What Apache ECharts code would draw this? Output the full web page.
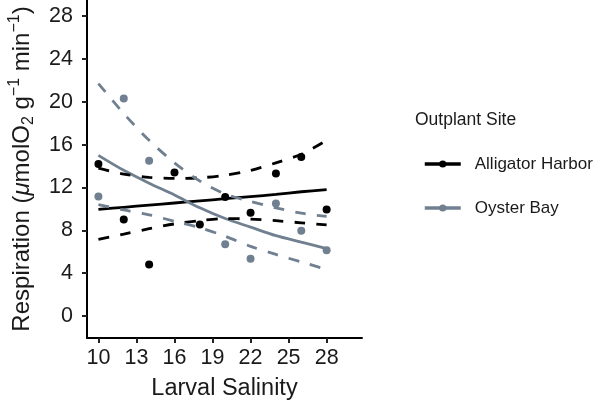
<!DOCTYPE html>
<html>
<head>
<meta charset="utf-8">
<script src="https://cdn.jsdelivr.net/npm/echarts@6/dist/echarts.min.js"></script>
<style>
  html, body { margin: 0; padding: 0; background: #fff; }
  #chart { width: 600px; height: 400px; }
</style>
</head>
<body>
<div id="chart"></div>
<script>
// observed larval salinity levels
var salinity = [10, 12, 14, 16, 18, 20, 22, 24, 26, 28];
var xTicks = [10, 13, 16, 19, 22, 25, 28];
var yTicks = [0, 4, 8, 12, 16, 20, 24, 28];

// measured respiration, one point per salinity
var ahPoints = [14.2, 9.0, 4.8, 13.4, 8.55, 11.1, 9.65, 13.3, 14.85, 9.95];
var obSalinity = [10, 12, 14, 20, 22, 24, 26, 28];
var obPoints = [11.15, 20.3, 14.5, 6.7, 5.35, 10.5, 7.95, 6.15];

// fitted lines and confidence bands
var ahFit   = [9.95, 10.15, 10.35, 10.55, 10.75, 10.95, 11.15, 11.35, 11.6, 11.8];
var ahUpper = [13.8, 13.25, 12.95, 12.85, 12.9, 13.15, 13.6, 14.3, 15.1, 16.4];
var ahLower = [7.15, 7.65, 8.15, 8.6, 8.9, 9.1, 9.05, 8.9, 8.7, 8.5];
var obFit   = [15.0, 13.6, 12.4, 11.3, 10.1, 9.1, 8.3, 7.5, 6.9, 6.3];
var obUpper = [21.7, 18.9, 16.4, 14.3, 12.6, 11.4, 10.7, 10.1, 9.6, 9.3];
var obLower = [10.4, 9.9, 9.45, 8.85, 8.25, 7.45, 6.5, 5.75, 5.05, 4.35];

var AH = '#000000';
var OB = '#708090';

function pairs(xs, ys) {
  return xs.map(function (x, i) { return [x, ys[i]]; });
}

function fitLine(name, color, ys) {
  return {
    name: name, type: 'line', data: pairs(salinity, ys),
    symbol: 'circle', showSymbol: false, smooth: 0.3,
    itemStyle: { color: color },
    lineStyle: { color: color, width: 2.8 }, z: 3, silent: true
  };
}

function bandLine(name, color, ys) {
  return {
    name: name, type: 'line', data: pairs(salinity, ys),
    showSymbol: false, smooth: 0.3,
    lineStyle: { color: color, width: 2.8, type: [11, 11] }, z: 3, silent: true
  };
}

function dots(name, color, xs, ys) {
  return {
    name: name, type: 'scatter', data: pairs(xs, ys),
    symbolSize: 8, itemStyle: { color: color, opacity: 1 }, z: 2, silent: true
  };
}

var myChart = echarts.init(document.getElementById('chart'));

option = {
  animation: false,
  title: {
    text: 'Outplant Site', left: 410, top: 106,
    textStyle: { fontSize: 17.5, fontWeight: 'normal', color: '#1a1a1a', fontFamily: 'Liberation Sans' }
  },
  legend: {
    data: ['Alligator Harbor', 'Oyster Bay'],
    orient: 'vertical', left: 418, top: 149,
    itemWidth: 36, itemHeight: 9, itemGap: 24,
    lineStyle: { width: 3.5 },
    textStyle: { fontSize: 17, color: '#1a1a1a', fontFamily: 'Liberation Sans', lineHeight: 20, padding: [0, 0, 0, 9] }
  },
  grid: { left: 87, right: 238, top: 0, bottom: 62, outerBoundsMode: 'none', containLabel: false },
  xAxis: {
    type: 'value', min: 9.1, max: 30.79,
    name: 'Larval Salinity', nameLocation: 'middle', nameGap: 39,
    nameTextStyle: { fontSize: 23.5, color: '#1a1a1a', fontFamily: 'Liberation Sans' },
    axisLine: { onZero: false, lineStyle: { color: '#000', width: 2 } },
    axisTick: { show: true, length: 5, customValues: xTicks, lineStyle: { color: '#222', width: 2 } },
    axisLabel: { customValues: xTicks, fontSize: 21.5, color: '#1a1a1a', margin: 9, fontFamily: 'Liberation Sans' },
    splitLine: { show: false }
  },
  yAxis: {
    type: 'value', min: -2.05, max: 29.5,
    name: '{a|Respiration (}{mu|μ}{a|molO}{sub|2}{a| g}{sup|−1}{a| min}{sup|−1}{a|)}',
    nameLocation: 'middle', nameGap: 50, nameRotate: 90,
    nameTextStyle: {
      fontSize: 24, color: '#1a1a1a', fontFamily: 'Liberation Sans',
      rich: {
        a: { fontSize: 24, lineHeight: 30, color: '#1a1a1a', fontFamily: 'Liberation Sans' },
        mu: { fontSize: 24, lineHeight: 30, fontStyle: 'italic', color: '#1a1a1a', fontFamily: 'Liberation Sans' },
        sub: { fontSize: 16, lineHeight: 16, verticalAlign: 'bottom', color: '#1a1a1a', fontFamily: 'Liberation Sans' },
        sup: { fontSize: 16, lineHeight: 16, verticalAlign: 'top', color: '#1a1a1a', fontFamily: 'Liberation Sans' }
      }
    },
    axisLine: { show: true, onZero: false, lineStyle: { color: '#000', width: 2 } },
    axisTick: { show: true, length: 5, customValues: yTicks, lineStyle: { color: '#222', width: 2 } },
    axisLabel: { customValues: yTicks, fontSize: 21.5, color: '#1a1a1a', margin: 14, fontFamily: 'Liberation Sans' },
    splitLine: { show: false }
  },
  series: [
    fitLine('Alligator Harbor', AH, ahFit),
    fitLine('Oyster Bay', OB, obFit),
    bandLine('AH upper', AH, ahUpper),
    bandLine('AH lower', AH, ahLower),
    bandLine('OB upper', OB, obUpper),
    bandLine('OB lower', OB, obLower),
    dots('AH points', AH, salinity, ahPoints),
    dots('OB points', OB, obSalinity, obPoints)
  ]
};

myChart.setOption(option);
</script>
</body>
</html>
